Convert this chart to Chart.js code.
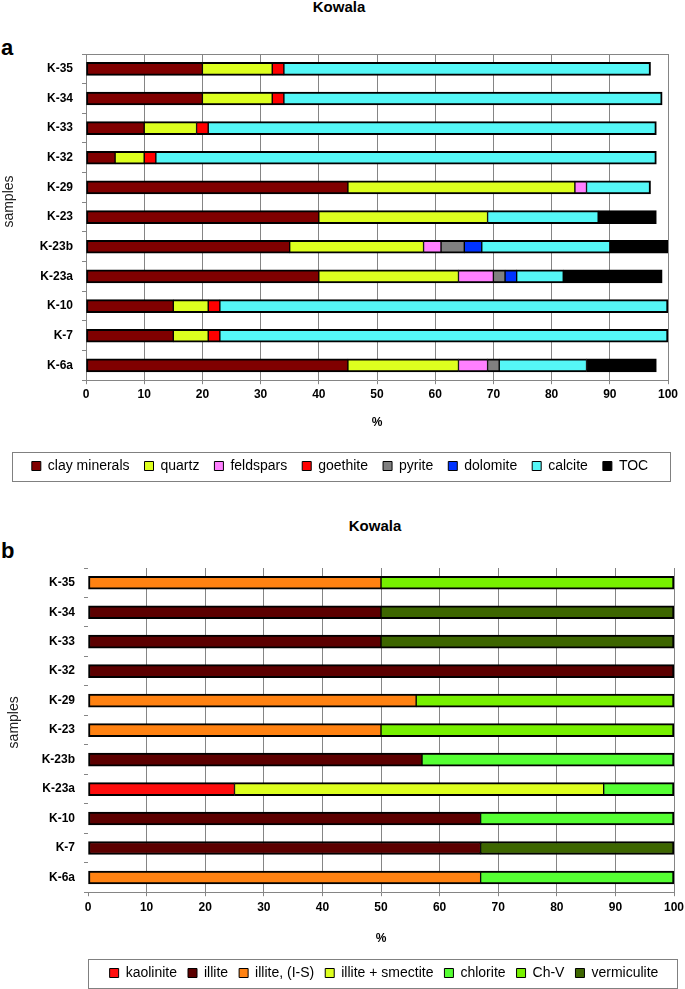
<!DOCTYPE html>
<html>
<head>
<meta charset="utf-8">
<script src="https://cdn.jsdelivr.net/npm/chart.js@4.4.1/dist/chart.umd.min.js"></script>
<style>
    body { margin: 0; background: #fff; width: 685px; height: 989px; overflow: hidden; position: relative; font-family: "Liberation Sans", Arial, sans-serif; }
    .box { position: absolute; left: 0; }
    .ttl { position: absolute; font-weight: bold; font-size: 15px; line-height: 18px; width: 200px; text-align: center; }
    .lbl { position: absolute; font-weight: bold; font-size: 22px; line-height: 26px; }
</style>
</head>
<body>
<div class="ttl" style="left:239px;top:-2px">Kowala</div>
<div class="lbl" style="left:1px;top:35px">a</div>
<div class="box" style="top:0;width:685px;height:490px"><canvas id="chart-a"></canvas></div>
<div class="ttl" style="left:275px;top:517px">Kowala</div>
<div class="lbl" style="left:1px;top:538px">b</div>
<div class="box" style="top:495px;width:700px;height:510px"><canvas id="chart-b"></canvas></div>

<script>
// amostras (de cima para baixo)
const samples = ['K-35', 'K-34', 'K-33', 'K-32', 'K-29', 'K-23', 'K-23b', 'K-23a', 'K-10', 'K-7', 'K-6a'];

// escala do eixo x (%)
const pctMin = 0;
const pctMax = 100;
const pctStep = 10;

// a - composição mineral
const clayMinerals = [20, 20, 10, 5, 45, 40, 35, 40, 15, 15, 45];
const quartz       = [12, 12, 9, 5, 39, 29, 23, 24, 6, 6, 19];
const feldspars    = [0, 0, 0, 0, 2, 0, 3, 6, 0, 0, 5];
const goethite     = [2, 2, 2, 2, 0, 0, 0, 0, 2, 2, 0];
const pyrite       = [0, 0, 0, 0, 0, 0, 4, 2, 0, 0, 2];
const dolomite     = [0, 0, 0, 0, 0, 0, 3, 2, 0, 0, 0];
const calcite      = [63, 65, 77, 86, 11, 19, 22, 8, 77, 77, 15];
const toc          = [0, 0, 0, 0, 0, 10, 10, 17, 0, 0, 12];

// b - minerais de argila
const kaolinite      = [0, 0, 0, 0, 0, 0, 0, 25, 0, 0, 0];
const illite         = [0, 50, 50, 100, 0, 0, 57, 0, 67, 67, 0];
const illiteIS       = [50, 0, 0, 0, 56, 50, 0, 0, 0, 0, 67];
const illiteSmectite = [0, 0, 0, 0, 0, 0, 0, 63, 0, 0, 0];
const chlorite       = [0, 0, 0, 0, 0, 0, 43, 12, 33, 0, 33];
const chV            = [50, 0, 0, 0, 44, 50, 0, 0, 0, 0, 0];
const vermiculite    = [0, 50, 50, 0, 0, 0, 0, 0, 0, 33, 0];

const FONT = '"Liberation Sans", Arial, sans-serif';
const GRID = '#858585';

// verifica se a fonte estreita existe
function hasFont(name) {
    const c = document.createElement('canvas').getContext('2d');
    c.font = '20px monospace';
    const w1 = c.measureText('K-23b Kowala 100').width;
    c.font = '20px "' + name + '", monospace';
    return c.measureText('K-23b Kowala 100').width !== w1;
}

const NARROW = hasFont('Liberation Sans Narrow');
const TICK_FONT = NARROW
    ? { family: '"Liberation Sans Narrow", ' + FONT, size: 14, weight: 'bold' }
    : { family: FONT, size: 12, weight: 'bold' };
const PCT_FONT = NARROW
    ? { family: '"Liberation Sans Narrow", ' + FONT, size: 13, weight: 'bold' }
    : { family: FONT, size: 12, weight: 'bold' };

Chart.defaults.font.family = FONT;
Chart.defaults.color = '#000';

// borda preta; mais grossa nas pontas de cada barra
function segmentBorder(ctx) {
    if (ctx.dataIndex === undefined) return 1;
    const sets = ctx.chart.data.datasets;
    let first = -1, last = -1;
    sets.forEach((s, k) => {
        if (s.data[ctx.dataIndex] > 0) {
            if (first < 0) first = k;
            last = k;
        }
    });
    return {
        top: 2,
        bottom: 2,
        left: ctx.datasetIndex === first ? 2 : 1,
        right: ctx.datasetIndex === last ? 2 : 1
    };
}

// moldura em volta da legenda (e pequeno ajuste horizontal)
const legendFrame = {
    id: 'legendFrame',
    afterLayout(chart, args, opts) {
        if (chart.legend && opts.shift) {
            chart.legend.left += opts.shift;
            chart.legend.right += opts.shift;
        }
    },
    afterDraw(chart, args, opts) {
        const boxes = chart.legend && chart.legend.legendHitBoxes;
        if (!boxes || !boxes.length) return;
        const left = Math.min(...boxes.map(b => b.left)) - opts.padLeft;
        const right = Math.max(...boxes.map(b => b.left + b.width)) + opts.padRight;
        const mid = boxes[0].top + boxes[0].height / 2;
        const ctx = chart.ctx;
        ctx.save();
        ctx.strokeStyle = '#808080';
        ctx.lineWidth = 1;
        ctx.strokeRect(Math.round(left) + 0.5, Math.round(mid - opts.height / 2) + 0.5, Math.round(right - left), opts.height);
        ctx.restore();
    }
};

function makeDataset(label, data, color) {
    return {
        label: label,
        data: data,
        backgroundColor: color,
        borderColor: '#000',
        borderWidth: segmentBorder,
        borderSkipped: false,
        barThickness: 13
    };
}

function buildChart(canvasId, datasets, cfg) {
    const ctx = document.getElementById(canvasId).getContext('2d');
    const scales = {
        x: {
            type: 'linear',
            stacked: true,
            min: pctMin,
            max: pctMax,
            grid: {
                color: cfg.hideZeroLine ? (c => c.tick && c.tick.value === 0 ? 'rgba(0,0,0,0)' : GRID) : GRID,
                tickColor: GRID,
                tickLength: 4
            },
            border: { display: true, color: GRID },
            ticks: {
                stepSize: pctStep,
                padding: cfg.xTickPad,
                font: TICK_FONT,
                color: '#000'
            },
            title: {
                display: true,
                text: '%',
                font: PCT_FONT,
                padding: { top: cfg.xTitleTop, bottom: cfg.xTitleBottom }
            }
        },
        y: {
            type: 'category',
            stacked: true,
            offset: true,
            grid: {
                offset: true,
                drawOnChartArea: false,
                drawTicks: true,
                tickLength: 4,
                color: GRID
            },
            border: { display: cfg.yBorder, color: GRID },
            ticks: {
                padding: 9,
                font: TICK_FONT,
                color: '#000'
            },
            title: {
                display: true,
                text: cfg.yTitle,
                font: { size: 14 },
                color: '#222',
                padding: { top: cfg.yTitlePad, bottom: 0 }
            },
            afterFit: s => { s.width = cfg.yWidth; }
        }
    };
    if (cfg.topLine) {
        scales.x2 = {
            type: 'linear',
            position: 'top',
            min: pctMin,
            max: pctMax,
            grid: { display: false, drawTicks: false },
            ticks: { display: false },
            border: { display: true, color: GRID }
        };
    }

    return new Chart(ctx, {
        type: 'bar',
        data: { labels: samples, datasets: datasets },
        options: {
            indexAxis: 'y',
            responsive: true,
            maintainAspectRatio: false,
            animation: false,
            layout: { padding: cfg.padding },
            scales: scales,
            plugins: {
                tooltip: { enabled: false },
                legend: {
                    position: 'bottom',
                    fullSize: cfg.legendFull,
                    labels: {
                        boxWidth: 9,
                        boxHeight: 9,
                        padding: cfg.legendPad,
                        font: { size: 14 },
                        color: '#000',
                        generateLabels: chart => {
                            const items = Chart.defaults.plugins.legend.labels.generateLabels(chart);
                            items.forEach(it => { it.lineWidth = 1; it.strokeStyle = '#000'; });
                            return items;
                        }
                    }
                },
                legendFrame: cfg.frame
            }
        },
        plugins: [legendFrame]
    });
}

buildChart('chart-a', [
    makeDataset('clay minerals', clayMinerals, '#800000'),
    makeDataset('quartz', quartz, '#ddff1f'),
    makeDataset('feldspars', feldspars, '#ff80ff'),
    makeDataset('goethite', goethite, '#ff0000'),
    makeDataset('pyrite', pyrite, '#808080'),
    makeDataset('dolomite', dolomite, '#0033ff'),
    makeDataset('calcite', calcite, '#55f7f7'),
    makeDataset('TOC', toc, '#000000')
], {
    padding: { top: 54, right: 17, bottom: 7, left: 0 },
    yWidth: 86,
    yTitle: '        samples',
    yTitlePad: 1,
    yBorder: true,
    topLine: true,
    hideZeroLine: false,
    xTickPad: NARROW ? 2 : 3,
    xTitleTop: NARROW ? 9 : 11,
    xTitleBottom: NARROW ? 13 : 14,
    legendFull: true,
    legendPad: 15,
    frame: { padLeft: 20, padRight: 22, height: 29, shift: 6 }
});

buildChart('chart-b', [
    makeDataset('kaolinite', kaolinite, '#ff0d0d'),
    makeDataset('illite', illite, '#5c0000'),
    makeDataset('illite, (I-S)', illiteIS, '#ff8212'),
    makeDataset('illite + smectite', illiteSmectite, '#ddff1f'),
    makeDataset('chlorite', chlorite, '#55ff33'),
    makeDataset('Ch-V', chV, '#77f000'),
    makeDataset('vermiculite', vermiculite, '#3d6600')
], {
    padding: { top: 73, right: 26, bottom: 15, left: 0 },
    yWidth: 88,
    yTitle: '    samples',
    yTitlePad: 6,
    yBorder: false,
    topLine: false,
    hideZeroLine: true,
    xTickPad: 4,
    xTitleTop: NARROW ? 10 : 13,
    xTitleBottom: NARROW ? 8 : 9,
    legendFull: false,
    legendPad: 11,
    frame: { padLeft: 22, padRight: 18, height: 29, shift: 3 }
});
</script>
</body>
</html>
